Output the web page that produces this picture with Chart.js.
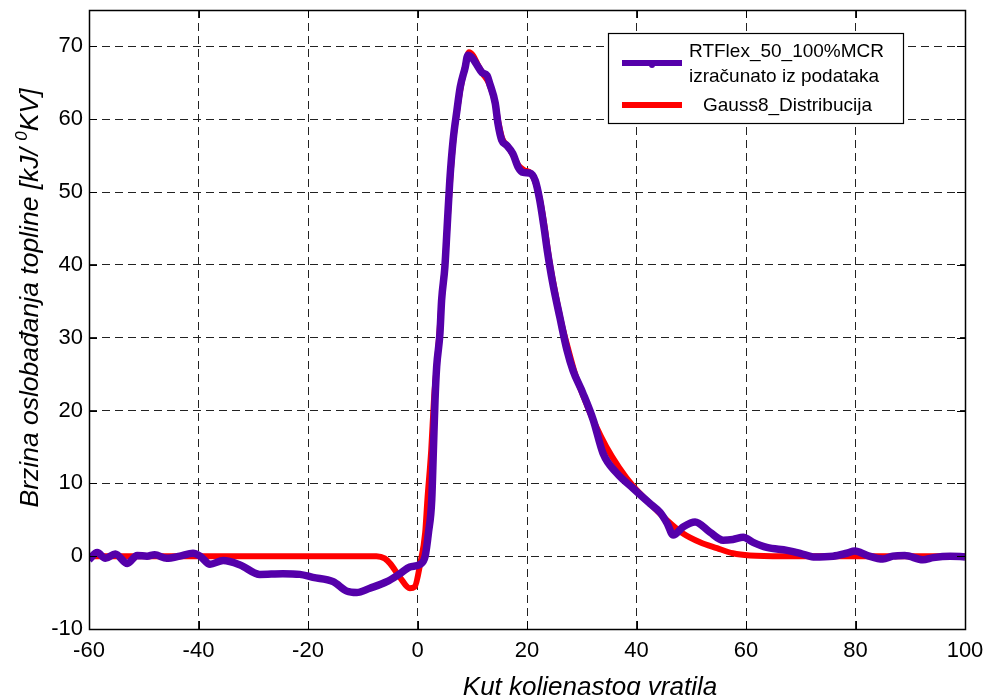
<!DOCTYPE html>
<html>
<head>
<meta charset="utf-8">
<script src="https://cdn.jsdelivr.net/npm/chart.js@4.4.1/dist/chart.umd.min.js"></script>
<style>
  html, body { margin: 0; padding: 0; background: #fff; }
  #wrap { width: 988px; height: 695px; }
</style>
</head>
<body>
<div id="wrap"><canvas id="chart" width="988" height="695"></canvas></div>
<script>
// RTFlex_50_100%MCR (izračunato iz podataka)
const rtX = [-60, -58.5, -57, -55.2, -53, -51.2, -49.4, -48, -45.8, -43.4, -41, -39.7, -37.9, -35.5, -32.4, -28.8, -24.6, -21.5, -19.1, -15.4, -12.9, -11.1, -8.7, -5.6, -3.2, -1.4, 0.5, 1.4, 2, 2.6, 2.9, 3.2, 3.5, 4.1, 4.4, 5, 5.4, 5.9, 6.5, 7.2, 7.8, 8.7, 9.2, 10, 10.9, 11.8, 12.7, 13.2, 14.2, 14.7, 15.4, 16.3, 17.4, 18.4, 19.3, 20.5, 21.5, 22.3, 23.1, 23.7, 24.7, 26, 27.3, 28.4, 30.2, 32.1, 33.9, 36.4, 39.4, 42.5, 44.3, 45.6, 46.7, 48.5, 50.7, 53.4, 55.8, 57.6, 59.5, 61.3, 63.8, 67.5, 69.9, 72.3, 75.9, 78.4, 79.9, 82.1, 85, 86.8, 89, 92.3, 94.2, 97.3, 100];
const rtY = [-0.5, 0.5, -0.3, 0.3, -1, 0.1, 0, 0.2, -0.3, 0, 0.4, 0, -1.1, -0.6, -1.2, -2.5, -2.4, -2.5, -2.9, -3.5, -4.8, -5, -4.4, -3.5, -2.4, -1.5, -1.1, 0, 3.2, 7.7, 14.5, 21.4, 26, 30.6, 35.1, 39.7, 45, 51.6, 57.1, 61.2, 64.4, 67.1, 68.8, 68.4, 67.4, 66.4, 66, 64.9, 62.2, 59.4, 57.1, 56.4, 55.3, 53.4, 52.7, 52.6, 51.6, 49, 45.2, 42, 37.5, 32.8, 28.3, 25.5, 22.4, 18.7, 14.1, 11.4, 9.3, 7.2, 6, 4.5, 2.9, 4, 4.7, 3.3, 2.2, 2.3, 2.6, 1.9, 1.2, 0.8, 0.4, -0.1, 0, 0.4, 0.7, 0.1, -0.4, 0, 0.1, -0.5, -0.2, 0, -0.1];

// Gauss8_Distribucija
const gaussX = [-60, -7.5, -6, -5, -3.2, -1.4, -0.5, 0.5, 1.4, 1.8, 2.5, 3, 3.5, 4, 4.4, 5, 5.5, 6, 6.6, 7.3, 8, 8.8, 9.4, 10.2, 11, 12, 13, 14.1, 14.8, 15.5, 16.5, 17.5, 18.5, 19.5, 20.7, 21.6, 22.5, 23.3, 24, 25, 26.3, 27.5, 28.8, 30.5, 32.5, 34.5, 36.8, 39.4, 42.5, 45.6, 48.5, 51.6, 54.7, 57.6, 60.7, 66.8, 100];
const gaussY = [0, 0, -0.3, -1, -2.9, -4.4, -4.2, -1, 3.2, 7.7, 14.5, 21.4, 26, 30.6, 35.1, 40, 46, 52, 57.5, 61.5, 64.8, 67.6, 69.2, 68.7, 67.5, 66.2, 65, 62.5, 59.5, 57.3, 56.3, 55, 53.6, 53, 52.6, 51.2, 48.5, 44.8, 41, 36.8, 32, 28.5, 25, 21.6, 18, 15, 12.2, 9.6, 7.2, 4.9, 3.1, 1.9, 1.1, 0.4, 0.1, 0, 0];

const xTicks = [-60, -40, -20, 0, 20, 40, 60, 80, 100];
const yTicks = [-10, 0, 10, 20, 30, 40, 50, 60, 70];

const seriesNames = ["RTFlex_50_100%MCR", "izračunato iz podataka", "Gauss8_Distribucija"];
const xTitle = "Kut koljenastog vratila";
const yTitle = ["Brzina oslobađanja topline [kJ/ ", "0", "KV]"];

const purple = "#5500aa";
const red = "#ff0000";
const font = "'Liberation Sans', Arial, Helvetica, sans-serif";

const toPoints = (xs, ys) => xs.map((x, i) => ({ x, y: ys[i] }));

// okvir, unutarnje crtice, legenda i naslovi osi
const matlabBox = {
  id: "matlabBox",
  afterDraw(chart) {
    const { ctx, chartArea: a, scales } = chart;
    ctx.save();
    ctx.strokeStyle = "#000";
    ctx.lineWidth = 1;
    ctx.setLineDash([]);
    ctx.beginPath();
    xTicks.forEach(v => {
      const px = Math.round(scales.x.getPixelForValue(v)) + 0.5;
      ctx.moveTo(px, a.bottom); ctx.lineTo(px, a.bottom - 8);
      ctx.moveTo(px, a.top); ctx.lineTo(px, a.top + 8);
    });
    yTicks.forEach(v => {
      const py = Math.round(scales.y.getPixelForValue(v)) + 0.5;
      ctx.moveTo(a.left, py); ctx.lineTo(a.left + 8, py);
      ctx.moveTo(a.right, py); ctx.lineTo(a.right - 8, py);
    });
    ctx.stroke();
    ctx.lineWidth = 1.5;
    ctx.strokeRect(Math.round(a.left) + 0.5, Math.round(a.top) + 0.5, Math.round(a.right - a.left), Math.round(a.bottom - a.top));

    // legenda
    ctx.fillStyle = "#fff";
    ctx.fillRect(608, 33, 295, 90);
    ctx.lineWidth = 1.2;
    ctx.strokeStyle = "#000";
    ctx.strokeRect(608.5, 33.5, 295, 90);
    ctx.lineWidth = 6;
    ctx.strokeStyle = purple;
    ctx.beginPath(); ctx.moveTo(622, 63); ctx.lineTo(682, 63); ctx.stroke();
    ctx.fillStyle = purple;
    ctx.beginPath(); ctx.arc(652, 65, 3, 0, Math.PI * 2); ctx.fill();
    ctx.strokeStyle = red;
    ctx.beginPath(); ctx.moveTo(622, 105); ctx.lineTo(682, 105); ctx.stroke();
    ctx.fillStyle = "#000";
    ctx.font = "19px " + font;
    ctx.textBaseline = "middle";
    ctx.textAlign = "left";
    ctx.fillText(seriesNames[0], 689, 52);
    ctx.fillText(seriesNames[1], 689, 77);
    ctx.fillText(seriesNames[2], 703, 106);

    // naslov osi x
    ctx.font = "italic 26px " + font;
    ctx.textAlign = "center";
    ctx.textBaseline = "alphabetic";
    ctx.fillText(xTitle, 590, 695);

    // naslov osi y (s eksponentom)
    ctx.translate(38, 298);
    ctx.rotate(-Math.PI / 2);
    const big = "italic 26.5px " + font, small = "italic 17px " + font;
    ctx.font = big;
    const w0 = ctx.measureText(yTitle[0]).width;
    const w2 = ctx.measureText(yTitle[2]).width;
    ctx.font = small;
    const w1 = ctx.measureText(yTitle[1]).width;
    let x0 = -(w0 + w1 + w2) / 2;
    ctx.textAlign = "left";
    ctx.font = big;
    ctx.fillText(yTitle[0], x0, 0);
    ctx.font = small;
    ctx.fillText(yTitle[1], x0 + w0, -11);
    ctx.font = big;
    ctx.fillText(yTitle[2], x0 + w0 + w1, 0);
    ctx.restore();
  }
};

new Chart(document.getElementById("chart"), {
  type: "line",
  data: {
    datasets: [
      {
        label: seriesNames[0],
        data: toPoints(rtX, rtY),
        borderColor: purple,
        borderWidth: 7.5,
        pointRadius: 0,
        cubicInterpolationMode: "monotone",
        fill: false
      },
      {
        label: seriesNames[2],
        data: toPoints(gaussX, gaussY),
        borderColor: red,
        borderWidth: 6,
        pointRadius: 0,
        cubicInterpolationMode: "monotone",
        fill: false
      }
    ]
  },
  options: {
    responsive: false,
    animation: false,
    layout: { padding: { top: 10, right: 23, left: 0, bottom: 0 } },
    plugins: {
      legend: { display: false },
      tooltip: { enabled: false }
    },
    scales: {
      x: {
        type: "linear",
        min: -60,
        max: 100,
        afterBuildTicks: s => { s.ticks = xTicks.map(v => ({ value: v })); },
        afterFit: s => { s.height = 66; s.paddingLeft = 0; s.paddingRight = 0; },
        grid: { color: "#222", lineWidth: 1, drawTicks: false },
        border: { display: false, dash: [8, 5] },
        ticks: { color: "#000", padding: 9, maxRotation: 0, font: { family: font, size: 22 } }
      },
      y: {
        type: "linear",
        min: -10,
        max: 75,
        afterBuildTicks: s => { s.ticks = yTicks.map(v => ({ value: v })); },
        afterFit: s => { s.width = 89; s.paddingTop = 0; s.paddingBottom = 0; },
        grid: { color: "#222", lineWidth: 1, drawTicks: false },
        border: { display: false, dash: [8, 5] },
        ticks: { color: "#000", padding: 6, font: { family: font, size: 22 } }
      }
    }
  },
  plugins: [matlabBox]
});
</script>
</body>
</html>
